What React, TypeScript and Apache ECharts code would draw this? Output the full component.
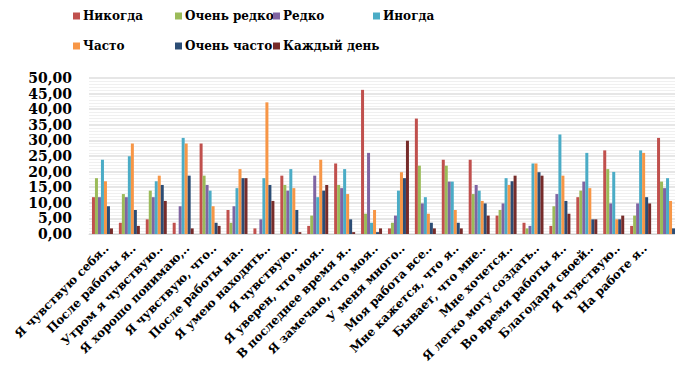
import React, { useEffect, useRef } from "react";
import * as echarts from "echarts";

const categories = [
  "Я чувствую себя..",
  "После работы я..",
  "Утром я чувствую..",
  "Я хорошо понимаю,..",
  "Я чувствую, что..",
  "После работы на..",
  "Я умею находить..",
  "Я чувствую..",
  "Я уверен, что моя..",
  "В последнее время я..",
  "Я замечаю, что моя..",
  "У меня много..",
  "Моя работа все..",
  "Мне кажется, что я..",
  "Бывает, что мне..",
  "Мне хочется..",
  "Я легко могу создать..",
  "Во время работы я..",
  "Благодаря своей..",
  "Я чувствую..",
  "На работе я..",
  "",
];

const seriesNames = ["Никогда", "Очень редко", "Редко", "Иногда", "Часто", "Очень часто", "Каждый день"];
const seriesColors = ["#C0504D", "#9BBB59", "#8064A2", "#4BACC6", "#F79646", "#2C4D75", "#772C2A"];

const never = [11.8, 3.6, 4.7, 3.6, 29.0, 7.7, 1.8, 18.7, 2.6, 22.6, 46.2, 1.8, 37.0, 23.8, 23.8, 5.9, 3.6, 2.6, 11.8, 26.8, 2.6, 30.8];
const veryRarely = [17.9, 12.8, 13.9, 0, 18.7, 3.6, 0, 15.7, 5.9, 15.7, 6.5, 3.6, 21.9, 21.9, 12.8, 7.7, 1.8, 8.9, 13.9, 20.8, 5.9, 16.8];
const rarely = [11.8, 11.8, 11.8, 8.9, 15.7, 8.9, 4.7, 13.9, 18.7, 14.7, 26.0, 5.9, 9.8, 16.8, 15.7, 9.8, 2.6, 12.8, 16.8, 9.8, 9.8, 14.7];
const sometimes = [23.8, 24.9, 16.9, 30.8, 13.9, 14.7, 17.9, 20.8, 11.8, 20.8, 3.6, 13.9, 11.8, 16.8, 13.9, 17.9, 22.6, 31.9, 26.0, 19.9, 26.8, 17.9];
const often = [16.9, 29.0, 18.7, 29.0, 8.9, 20.8, 42.2, 14.7, 23.8, 12.8, 7.7, 19.8, 6.5, 7.7, 10.6, 15.7, 22.6, 18.7, 14.7, 4.7, 26.0, 10.6];
const veryOften = [8.9, 7.7, 15.7, 18.7, 3.6, 17.9, 15.7, 7.7, 13.9, 4.7, 0.6, 17.9, 3.6, 3.6, 9.8, 16.9, 19.8, 10.6, 4.7, 4.7, 11.8, 1.8];
const everyDay = [1.8, 2.6, 10.6, 1.8, 2.6, 17.9, 10.6, 0.6, 15.7, 0.6, 1.8, 29.9, 1.8, 1.8, 5.9, 18.7, 18.7, 6.5, 4.7, 5.9, 9.8, 2.0];

const seriesData = [never, veryRarely, rarely, sometimes, often, veryOften, everyDay];

const FONT = "DejaVu Serif";

// legend placement (icon left x, row top y)
const legendPos = [
  [73, 10], [175, 10], [273, 10], [373, 10],
  [73, 40], [175, 40], [273, 40],
];

export default function App() {
  const ref = useRef<HTMLDivElement>(null);
  useEffect(() => {
    if (!ref.current) return;
    const chart = echarts.init(ref.current, null, { renderer: "svg" });
    const option: any = {
      animation: false,
      backgroundColor: "#ffffff",
      legend: seriesNames.map((name, i) => ({
        data: [{ name, icon: "rect" }],
        left: legendPos[i][0],
        top: legendPos[i][1],
        itemWidth: 7,
        itemHeight: 7,
        padding: 0,
        textStyle: { fontFamily: FONT, fontSize: 12, fontWeight: "bold", color: "#000", padding: [0, 0, 0, -2] },
      })),
      grid: { left: 89, right: -6, top: 78, bottom: 138, containLabel: false, outerBoundsMode: "none" },
      xAxis: {
        type: "category",
        data: categories,
        axisTick: { show: false },
        axisLine: { lineStyle: { color: "#d9d9d9", width: 1 } },
        axisLabel: {
          interval: 0,
          rotate: 45,
          margin: 8,
          verticalAlign: "top",
          fontFamily: FONT,
          fontSize: 12,
          fontWeight: "bold",
          color: "#000",
        },
      },
      yAxis: {
        type: "value",
        min: 0,
        max: 50,
        interval: 5,
        axisLine: { show: false },
        axisTick: { show: false },
        axisLabel: {
          margin: 17,
          showMinLabel: true,
          showMaxLabel: true,
          hideOverlap: false,
          lineHeight: 14,
          fontFamily: FONT,
          fontSize: 14,
          fontWeight: "bold",
          color: "#000",
          formatter: (v: number) => v.toFixed(2).replace(".", ","),
        },
        splitLine: { lineStyle: { color: "#dedede", width: 1.5 } },
        minorTick: { show: false, splitNumber: 5 },
        minorSplitLine: { show: true, lineStyle: { color: "#f0f0f0", width: 1 } },
      },
      series: seriesNames.map((name, i) => ({
        name,
        type: "bar",
        data: seriesData[i],
        barGap: "0%",
        barCategoryGap: "22%",
        itemStyle: { color: seriesColors[i] },
      })),
    };
    chart.setOption(option);
    return () => chart.dispose();
  }, []);
  return <div ref={ref} style={{ position: "absolute", left: 0, top: 0, width: 675, height: 372 }} />;
}
